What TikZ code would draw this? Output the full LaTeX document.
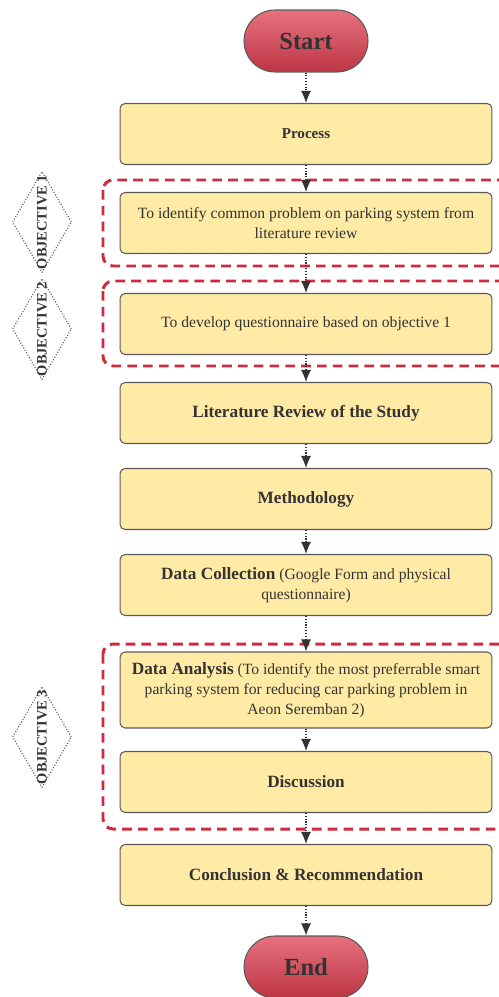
\documentclass[tikz,border=0pt]{standalone}
\usepackage{fontspec}
\setmainfont{Liberation Serif}
\usetikzlibrary{shapes.geometric,arrows.meta}
\definecolor{boxfill}{HTML}{FFEAA6}
\definecolor{boxline}{HTML}{5A5A5A}
\definecolor{termtop}{HTML}{E8717D}
\definecolor{termbot}{HTML}{BC3545}
\definecolor{objred}{HTML}{D02A3E}
\definecolor{txt}{HTML}{333333}
\tikzset{
  stepbox/.style={draw=boxline, fill=boxfill, rounded corners=0.1cm, line width=0.6pt,
    minimum width=7.44cm, minimum height=1.22cm, align=center,
    text=txt, font=\fontsize{8.9}{11.5}\selectfont},
  headbox/.style={stepbox, font=\fontsize{9.8}{12}\selectfont\bfseries},
  terminal/.style={draw=boxline, top color=termtop, bottom color=termbot, line width=0.6pt,
    rounded corners=0.62cm, minimum width=2.48cm, minimum height=1.24cm,
    text=txt, font=\fontsize{14}{16}\selectfont\bfseries},
  objframe/.style={draw=objred, line width=1.7pt, dash pattern=on 5.5pt off 3.5pt,
    rounded corners=0.2cm},
  objdiamond/.style={diamond, draw=black!65, densely dotted, line width=0.6pt,
    minimum width=1.18cm, minimum height=2.02cm, inner sep=0pt},
  objlabel/.style={rotate=90, text=txt, font=\fontsize{8.2}{9}\selectfont\bfseries},
  flow/.style={draw=txt, densely dotted, line width=0.6pt, -{Latex[length=2.4mm,width=2mm]}}
}
\newcommand{\lead}[1]{{\fontsize{9.8}{12}\selectfont\bfseries #1}}
\begin{document}
\begin{tikzpicture}[x=0.02cm, y=-0.02cm]
    \useasboundingbox (0,0) rectangle (498,997);
    % objective frames
    \draw[objframe] (103,180) rectangle (515,266);
    \draw[objframe] (103,281) rectangle (515,366);
    \draw[objframe] (103,644) rectangle (515,829);
    % flow nodes
    \node[terminal] (start) at (306,41) {Start};
    \node[headbox, font=\fontsize{8.6}{11}\selectfont\bfseries] (process) at (306,134) {Process};
    \node[stepbox] (obj1) at (306,223) {To identify common problem on parking system from\\ literature review};
    \node[stepbox] (obj2) at (306,324) {To develop questionnaire based on objective 1};
    \node[headbox] (review) at (306,413) {Literature Review of the Study};
    \node[headbox] (method) at (306,499) {Methodology};
    \node[stepbox] (collect) at (306,585) {\lead{Data Collection} (Google Form and physical\\ questionnaire)};
    \node[stepbox, minimum height=1.52cm] (analysis) at (306,690) {\lead{Data Analysis} (To identify the most preferrable smart\\ parking system for reducing car parking problem in\\ Aeon Seremban 2)};
    \node[headbox] (discuss) at (306,782) {Discussion};
    \node[headbox] (conclude) at (306,875) {Conclusion \& Recommendation};
    \node[terminal] (end) at (306,967) {End};
    % objective tags
    \node[objdiamond] (tag1) at (42,222) {};
    \node[objlabel] (tag1text) at (tag1) {OBJECTIVE 1};
    \node[objdiamond] (tag2) at (42,329) {};
    \node[objlabel] (tag2text) at (tag2) {OBJECTIVE 2};
    \node[objdiamond] (tag3) at (42,737) {};
    \node[objlabel] (tag3text) at (tag3) {OBJECTIVE 3};
    % arrows
    \draw[flow] (start) -- (process);
    \draw[flow] (process) -- (obj1);
    \draw[flow] (obj1) -- (obj2);
    \draw[flow] (obj2) -- (review);
    \draw[flow] (review) -- (method);
    \draw[flow] (method) -- (collect);
    \draw[flow] (collect) -- (analysis);
    \draw[flow] (analysis) -- (discuss);
    \draw[flow] (discuss) -- (conclude);
    \draw[flow] (conclude) -- (end);
\end{tikzpicture}
\end{document}
